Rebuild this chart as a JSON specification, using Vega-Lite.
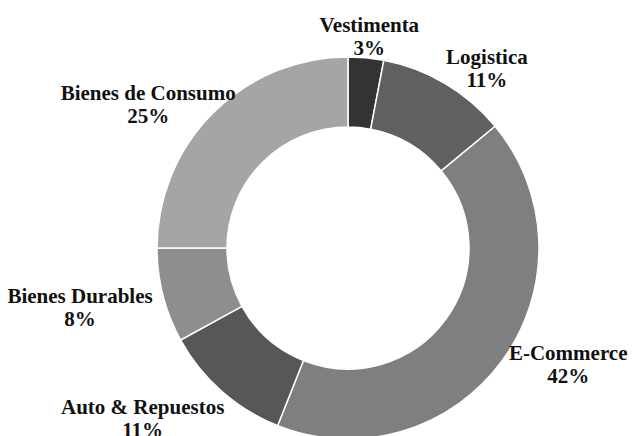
{
  "$schema": "https://vega.github.io/schema/vega-lite/v6.json",
  "autosize": {"type": "none"},
  "padding": {"left": 62, "top": 62, "right": 2, "bottom": 2},
  "width": 572,
  "height": 372,
  "background": "#ffffff",
  "config": {"view": {"stroke": null}},
  "data": {
    "values": [
      {"order": 1, "cat": "Vestimenta", "pct": 3},
      {"order": 2, "cat": "Logistica", "pct": 11},
      {"order": 3, "cat": "E-Commerce", "pct": 42},
      {"order": 4, "cat": "Auto & Repuestos", "pct": 11},
      {"order": 5, "cat": "Bienes Durables", "pct": 8},
      {"order": 6, "cat": "Bienes de Consumo", "pct": 25}
    ]
  },
  "layer": [
    {
      "mark": {"type": "arc", "outerRadius": 191, "innerRadius": 121, "stroke": "#ffffff", "strokeWidth": 1.5},
      "encoding": {
        "theta": {"field": "pct", "type": "quantitative", "stack": true},
        "order": {"field": "order", "type": "quantitative"},
        "color": {
          "field": "cat",
          "type": "nominal",
          "legend": null,
          "scale": {
            "domain": ["Vestimenta", "Logistica", "E-Commerce", "Auto & Repuestos", "Bienes Durables", "Bienes de Consumo"],
            "range": ["#333333", "#606060", "#7f7f7f", "#575757", "#8e8e8e", "#a5a5a5"]
          }
        }
      }
    },
    {
      "transform": [
        {"window": [{"op": "sum", "field": "pct", "as": "cum"}], "sort": [{"field": "order", "order": "ascending"}]},
        {"calculate": "(datum.cum - datum.pct / 2) / 100 * 2 * PI", "as": "mid"},
        {"calculate": "datum.mid + 0.16 * sin(2 * datum.mid) * abs(sin(2 * datum.mid))", "as": "ta"},
        {"calculate": "max(abs(sin(datum.ta)), 0.001)", "as": "s"},
        {"calculate": "max(abs(cos(datum.ta)), 0.001)", "as": "c"},
        {"calculate": "cos(datum.ta) > 0 ? 0.5 * (length(datum.cat) * 5.2 + 15) : length(datum.cat) * 5.2", "as": "hw"},
        {"calculate": "datum.s * datum.hw + datum.c * 19", "as": "b"},
        {"calculate": "datum.b + sqrt(datum.b * datum.b - datum.hw * datum.hw - 19 * 19 + 194 * 194)", "as": "d1"},
        {"calculate": "datum.d1 * datum.s < datum.hw ? (194 + 19) / datum.c : (datum.d1 * datum.c < 19 ? (194 + datum.hw) / datum.s : datum.d1)", "as": "dist"},
        {"calculate": "[datum.cat, datum.pct + '%']", "as": "lab"}
      ],
      "mark": {
        "type": "text",
        "font": "Liberation Serif",
        "fontWeight": "bold",
        "fontSize": 21,
        "lineHeight": 23,
        "dy": -9.5,
        "align": "center",
        "baseline": "middle",
        "color": "#111111"
      },
      "encoding": {
        "theta": {"field": "ta", "type": "quantitative", "scale": null, "stack": null},
        "radius": {"field": "dist", "type": "quantitative", "scale": null},
        "text": {"field": "lab", "type": "nominal"}
      }
    }
  ]
}
